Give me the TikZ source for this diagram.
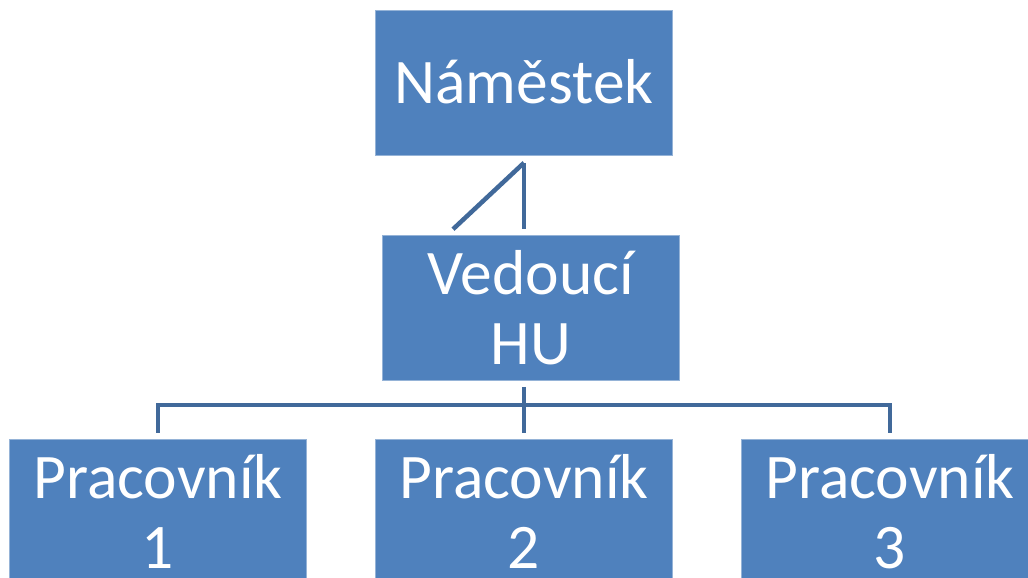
\documentclass[tikz,border=0pt]{standalone}
\usepackage{fontspec}
\setmainfont{Carlito}
\usetikzlibrary{calc}
\definecolor{boxblue}{HTML}{4F81BD}
\definecolor{lineblue}{HTML}{41699A}
\tikzset{
  orgbox/.style={rectangle, fill=boxblue, draw=boxblue!60!white, line width=0.6pt,
    minimum width=297pt, minimum height=145pt, inner sep=0pt, text=white,
    align=center, font=\fontsize{63.5}{70}\selectfont},
  conn/.style={draw=lineblue, line width=4.5pt}
}
\begin{document}
\begin{tikzpicture}[x=1pt,y=-1pt]
\useasboundingbox (0,0) rectangle (1028,578);
\clip (0,0) rectangle (1028,578);
\fill[white] (0,0) rectangle (1028,578);
\node[orgbox] (N) at (524,83) {\raisebox{3pt}{Náměstek}};
\node[orgbox] (V) at (531,308) {Vedoucí\\HU};
\node[orgbox] (P1) at (158,511.5) {Pracovník\\1};
\node[orgbox] (P2) at (524,511.5) {Pracovník\\2};
\node[orgbox] (P3) at (890,511.5) {Pracovník\\3};
\coordinate (nb) at ([yshift=-7pt]N.south);
\coordinate (vt) at ($(nb|-V.north)+(0,-6)$);
\coordinate (dl) at ($(vt)+(-71,0)$);
\draw[conn] (nb) -- (vt);
\draw[conn] (nb) -- (dl);
\coordinate (vb) at ($(nb|-V.south)+(0,6)$);
\coordinate (bus) at ($(nb|-V.south)+(0,24)$);
\coordinate (p1t) at ([yshift=6pt]P1.north);
\coordinate (p2t) at ([yshift=6pt]P2.north);
\coordinate (p3t) at ([yshift=6pt]P3.north);
\draw[conn] (vb) -- (p2t);
\draw[conn] (p1t) |- (bus) -| (p3t);
\end{tikzpicture}
\end{document}
